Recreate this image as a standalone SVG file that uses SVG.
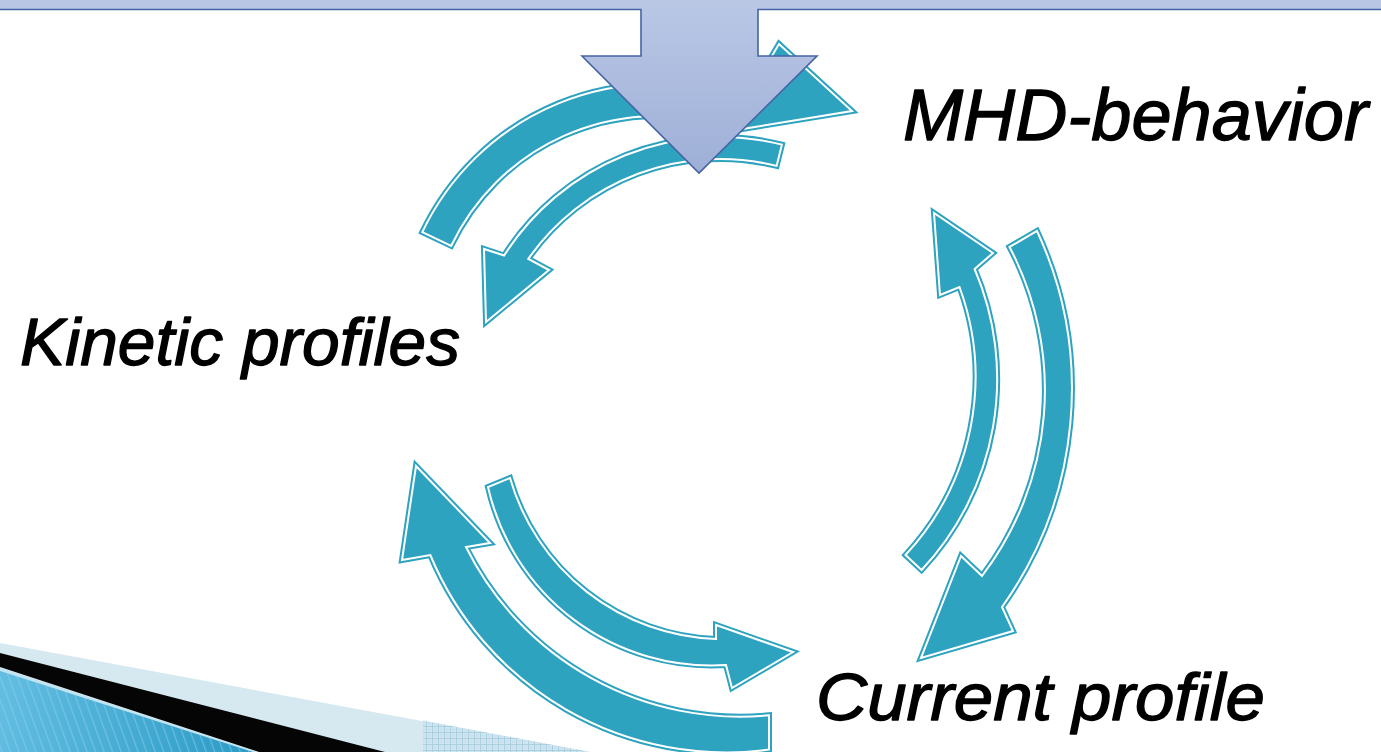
<svg xmlns="http://www.w3.org/2000/svg" xmlns:xlink="http://www.w3.org/1999/xlink" width="1381" height="752" viewBox="0 0 1381 752">
  <style>
    .arr { fill:#2ea3bf; stroke:#2ea3bf; stroke-width:6; stroke-linejoin:miter; stroke-miterlimit:12; }
    .arrw { fill:none; stroke:#ffffff; stroke-width:2; stroke-linejoin:miter; stroke-miterlimit:12; }
    .lbl { font-family:"Liberation Sans", Arial, sans-serif; font-style:italic; fill:#000; stroke:#000; stroke-width:1.3; stroke-linejoin:round; }
  </style>
  <defs>
    <linearGradient id="callGrad" gradientUnits="userSpaceOnUse" x1="0" y1="0" x2="0" y2="173">
      <stop offset="0" stop-color="#bac8e6"/>
      <stop offset="1" stop-color="#9eafd7"/>
    </linearGradient>
    <linearGradient id="blueGrad" gradientUnits="userSpaceOnUse" x1="0" y1="700" x2="260" y2="752">
      <stop offset="0" stop-color="#62bde2"/>
      <stop offset="1" stop-color="#2a9ac4"/>
    </linearGradient>
    <pattern id="stripes" patternUnits="userSpaceOnUse" width="8" height="8" patternTransform="rotate(-20)">
      <rect x="0" y="0" width="1.2" height="8" fill="#8fd0ec" fill-opacity="0.55"/>
    </pattern>
    <pattern id="checks" patternUnits="userSpaceOnUse" width="6" height="6">
      <rect x="0" y="0" width="6" height="6" fill="#d3e6ef"/>
      <path d="M0 0.5 H6 M0.5 0 V6" stroke="#a9cfe0" stroke-width="1" fill="none"/>
      <circle cx="3.5" cy="3.5" r="1" fill="none" stroke="#b6d7e6" stroke-width="0.6"/>
    </pattern>
    <path id="pA" d="M422.3,232.1 A260,260 0 0 1 745.9,99.7 L779,44 L852,111 L712,134 L719.8,124.8 A228,228 0 0 0 451.2,245.8 Z"/>
    <path id="pB" d="M781.9,144.6 A256,256 0 0 0 504.1,255.5 L484,249 L486,322 L549,270 L528.3,258.8 A234,234 0 0 1 776.6,165.9 Z"/>
    <path id="pC" d="M905.5,555 A261.3,261.3 0 0 0 959.5,287 L940,295 L934,213 L993,253 L974.6,269 A279.2,279.2 0 0 1 921.6,570 Z"/>
    <path id="pD" d="M1009.5,247 A306.4,306.4 0 0 1 982,576 L961,556 L921,658 L1013,631 L1002,607 A375,375 0 0 0 1037,231 Z"/>
    <path id="pE" d="M769,715.3 A306,306 0 0 1 466,547 L490,543 L416,466 L402,560 L430.3,555 A320.3,320.3 0 0 0 769,749.5 Z"/>
    <path id="pF" d="M510,478 A222.7,222.7 0 0 0 716,639 L716,625 L793,652 L732,688 L726,665 A229.1,229.1 0 0 1 488,487 Z"/>
  </defs>

  <rect x="0" y="0" width="1381" height="752" fill="#ffffff"/>

  <g id="decoration">
    <polygon points="0,643 590,752 0,752" fill="#d6e8f0"/>
    <polygon points="423,720.5 590,752 423,752" fill="url(#checks)"/>
    <polygon points="0,653 385,752 259,752 0,667" fill="#050505"/>
    <polygon points="0,668 257,752 0,752" fill="#bfe3f1"/>
    <polygon points="0,671 253,752 0,752" fill="url(#blueGrad)"/>
    <polygon points="0,671 253,752 0,752" fill="url(#stripes)"/>
  </g>

  <g id="connectors">
    <g id="arrow-kinetic-to-mhd"><use xlink:href="#pA" class="arr"/><use xlink:href="#pA" class="arrw"/></g>
    <g id="arrow-mhd-to-kinetic"><use xlink:href="#pB" class="arr"/><use xlink:href="#pB" class="arrw"/></g>
    <g id="arrow-current-to-mhd"><use xlink:href="#pC" class="arr"/><use xlink:href="#pC" class="arrw"/></g>
    <g id="arrow-mhd-to-current"><use xlink:href="#pD" class="arr"/><use xlink:href="#pD" class="arrw"/></g>
    <g id="arrow-current-to-kinetic"><use xlink:href="#pE" class="arr"/><use xlink:href="#pE" class="arrw"/></g>
    <g id="arrow-kinetic-to-current"><use xlink:href="#pF" class="arr"/><use xlink:href="#pF" class="arrw"/></g>
  </g>

  <g id="callout">
    <path d="M-5,-40 L1386,-40 L1386,9.5 L758,9.5 L758,56 L817,56 L699,173 L582,56 L641,56 L641,9.5 L-5,9.5 Z" fill="url(#callGrad)" stroke="#4565a5" stroke-width="1.6" stroke-linejoin="miter"/>
  </g>

  <g id="node-mhd">
    <text class="lbl" x="903" y="140" font-size="72" textLength="465" lengthAdjust="spacingAndGlyphs">MHD-behavior</text>
  </g>
  <g id="node-kinetic">
    <text class="lbl" x="20" y="365" font-size="67" textLength="440" lengthAdjust="spacingAndGlyphs">Kinetic profiles</text>
  </g>
  <g id="node-current">
    <text class="lbl" x="816" y="720" font-size="66" textLength="449" lengthAdjust="spacingAndGlyphs">Current profile</text>
  </g>
</svg>
